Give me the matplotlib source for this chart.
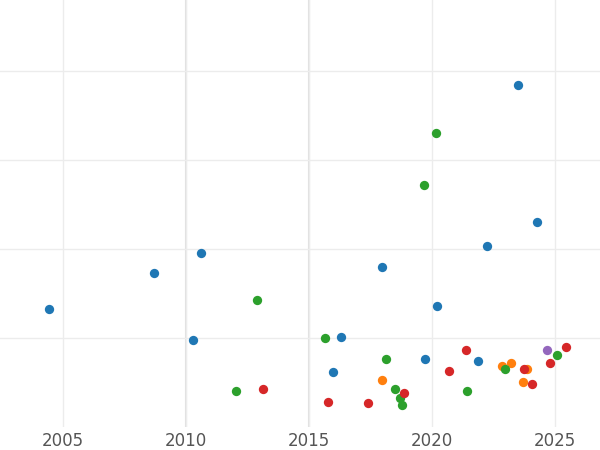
import matplotlib
matplotlib.use("Agg")
import matplotlib.pyplot as plt

blue_x = [2004.43, 2008.70, 2010.61, 2010.28, 2015.98, 2016.30, 2017.97, 2019.72, 2020.20, 2022.24, 2021.87, 2023.50, 2024.27]
blue_y = [1.33, 1.73, 1.96, 0.98, 0.62, 1.01, 1.80, 0.76, 1.36, 2.04, 0.74, 3.84, 2.30]
green_x = [2012.03, 2012.89, 2015.65, 2018.13, 2018.50, 2018.70, 2018.78, 2019.67, 2020.16, 2021.42, 2022.97, 2025.08]
green_y = [0.40, 1.43, 1.00, 0.76, 0.43, 0.33, 0.25, 2.72, 3.31, 0.40, 0.65, 0.81]
red_x = [2013.13, 2015.77, 2017.40, 2018.86, 2020.69, 2021.38, 2023.74, 2024.07, 2024.80, 2025.45]
red_y = [0.43, 0.28, 0.27, 0.38, 0.63, 0.87, 0.65, 0.48, 0.72, 0.90]
orange_x = [2017.97, 2022.85, 2023.21, 2023.70, 2023.86]
orange_y = [0.53, 0.69, 0.72, 0.51, 0.65]
purple_x = [2024.67]
purple_y = [0.87]

fig = plt.figure(figsize=(6, 4.5), dpi=100)
ax = fig.add_axes([0, 0.051, 1, 0.949])
for s in ax.spines.values():
    s.set_visible(False)
ax.set_xlim(2002.44, 2026.83)
ax.set_ylim(0, 4.8)
ax.set_xticks([2005, 2010, 2015, 2020, 2025])
ax.set_yticks([1, 2, 3, 4])
ax.set_yticklabels([])
ax.tick_params(length=0, labelsize=12, labelcolor="#555555")
ax.grid(True, color="#ececec", linewidth=1)
for xv in [2010, 2015]:
    ax.axvline(xv, color="#e0e0e0", linewidth=1.5, zorder=0)
ax.set_axisbelow(True)

kw = dict(s=45, zorder=3, linewidths=0)
ax.scatter(orange_x, orange_y, color="#ff7f0e", **kw)
ax.scatter(purple_x, purple_y, color="#9467bd", **kw)
ax.scatter(blue_x, blue_y, color="#1f77b4", **kw)
ax.scatter(green_x, green_y, color="#2ca02c", **kw)
ax.scatter(red_x, red_y, color="#d62728", **kw)

fig.savefig("out.png")
